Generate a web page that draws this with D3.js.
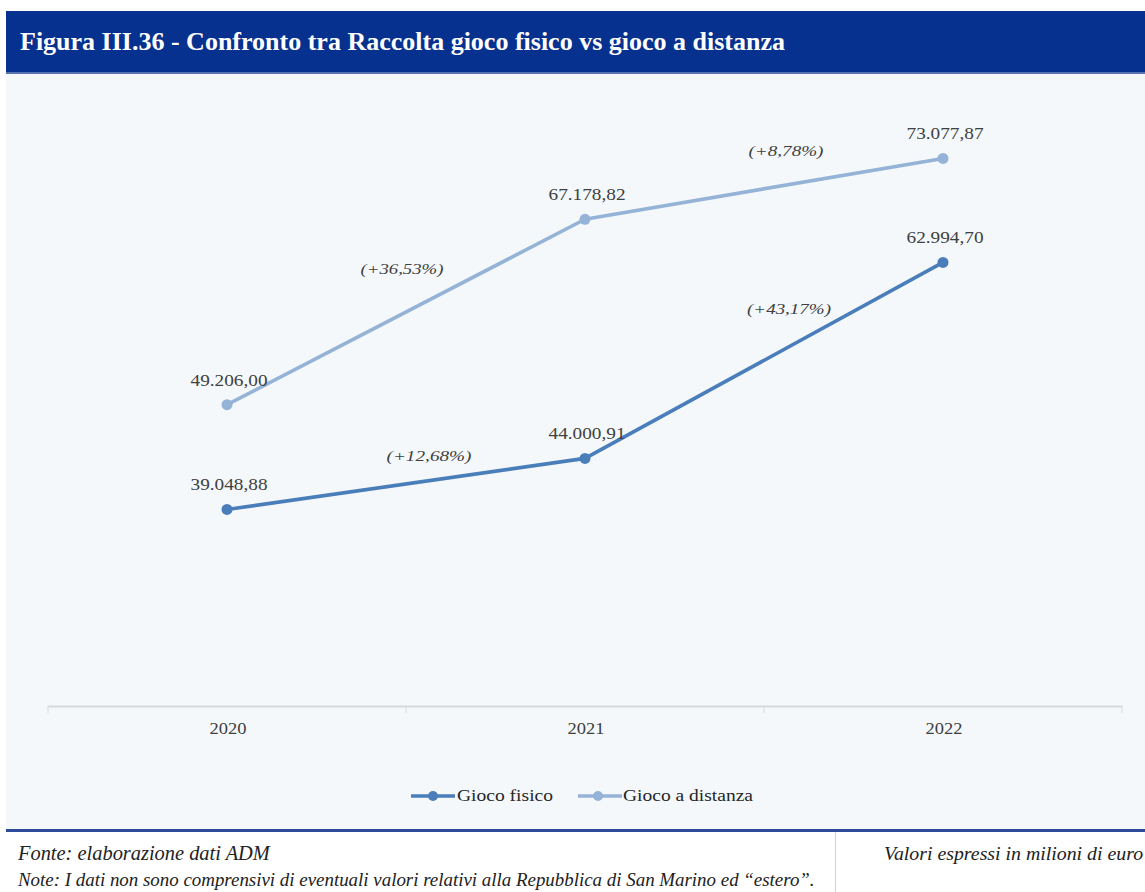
<!DOCTYPE html>
<html><head><meta charset="utf-8">
<script src="https://cdn.jsdelivr.net/npm/d3@7/dist/d3.min.js"></script>
<style>
html,body{margin:0;padding:0;background:#fff;}
svg{display:block;font-family:'Liberation Serif','DejaVu Serif',serif;}
</style></head>
<body>
<svg id="c" width="1145" height="892"></svg>
<script>
const years = ["2020", "2021", "2022"];
const fisico = [39048.88, 44000.91, 62994.70];
const distanza = [49206.00, 67178.82, 73077.87];
const fisicoLabels = ["39.048,88", "44.000,91", "62.994,70"];
const distanzaLabels = ["49.206,00", "67.178,82", "73.077,87"];
const fisicoPct = ["(+12,68%)", "(+43,17%)"];
const distanzaPct = ["(+36,53%)", "(+8,78%)"];
const seriesNames = ["Gioco fisico", "Gioco a distanza"];
const title = "Figura III.36 - Confronto tra Raccolta gioco fisico vs gioco a distanza";
const source = "Fonte: elaborazione dati ADM";
const note = "Note: I dati non sono comprensivi di eventuali valori relativi alla Repubblica di San Marino ed \u201cestero\u201d.";
const unit = "Valori espressi in milioni di euro";

const svg = d3.select("#c");
const SERIF = "Liberation Serif";
const colF = "#4a7ebb", colD = "#95b3d7";

function fit(sel, w){
  const n = sel.node(); let fs = parseFloat(sel.attr("font-size"));
  for(let i=0;i<4;i++){ const L = n.getComputedTextLength(); fs = fs*w/L; sel.attr("font-size", fs); }
}
function stretch(sel, w){ sel.attr("textLength", w).attr("lengthAdjust","spacingAndGlyphs"); }

// panel background
svg.append("rect").attr("x",6).attr("y",73).attr("width",1139).attr("height",757).attr("fill","#f4f8fb");
// header
svg.append("rect").attr("x",6).attr("y",11).attr("width",1139).attr("height",62).attr("fill","#07318f");
svg.append("rect").attr("x",6).attr("y",72).attr("width",1139).attr("height",2).attr("fill","#5873b0");
fit(svg.append("text").attr("x",20).attr("y",50).style("font-family",SERIF).attr("font-weight","bold")
  .attr("font-size",18).attr("fill","#fff").text(title), 765);

// scales
const x = d3.scaleBand().domain(years).range([48,1122]);
const y = d3.scaleLinear().domain([20000,80000]).range([706,87]);
const cx = d => x(d) + x.bandwidth()/2;

// axis
const ax = svg.append("g").attr("transform","translate(0,706)")
  .call(d3.axisBottom(x).tickSize(0).tickPadding(17));
ax.attr("font-family", null);
ax.select(".domain").attr("stroke","#d6d9dc").attr("stroke-width",2);
ax.selectAll("text").style("font-family",SERIF).attr("font-size",16).attr("fill","#404040")
  .attr("dx",1).each(function(){ stretch(d3.select(this), 37); });
// band boundary ticks
const bounds = years.map(d=>x(d)).concat([x(years[years.length-1])+x.bandwidth()]);
svg.append("g").selectAll("line").data(bounds).join("line")
  .attr("x1",d=>d).attr("x2",d=>d).attr("y1",706).attr("y2",713)
  .attr("stroke","#d6d9dc").attr("stroke-width",1);

const line = d3.line().x((d,i)=>cx(years[i])).y(d=>y(d));
function drawSeries(vals, col, labels){
  svg.append("path").datum(vals).attr("d",line).attr("fill","none")
    .attr("stroke",col).attr("stroke-width",3.6).attr("stroke-linejoin","round");
  svg.append("g").selectAll("circle").data(vals).join("circle")
    .attr("cx",(d,i)=>cx(years[i])).attr("cy",d=>y(d)).attr("r",5.5).attr("fill",col);
  svg.append("g").selectAll("text").data(vals).join("text")
    .attr("x",(d,i)=>cx(years[i])+2).attr("y",d=>y(d)-19)
    .attr("text-anchor","middle").style("font-family",SERIF).attr("font-size",16)
    .attr("fill","#404040").text((d,i)=>labels[i])
    .attr("textLength",77).attr("lengthAdjust","spacingAndGlyphs");
}
drawSeries(distanza, colD, distanzaLabels);
drawSeries(fisico, colF, fisicoLabels);

// percentage annotations (placed relative to segment midpoints)
function pct(vals, labels, offs, widths){
  labels.forEach((t,i)=>{
    const mx = (cx(years[i])+cx(years[i+1]))/2, my = (y(vals[i])+y(vals[i+1]))/2;
    svg.append("text").attr("x",mx+offs[i][0]).attr("y",my+offs[i][1])
      .attr("text-anchor","middle").style("font-family",SERIF).attr("font-style","italic")
      .attr("font-size",15.5).attr("fill","#404040").text(t)
      .attr("textLength",widths[i]).attr("lengthAdjust","spacingAndGlyphs");
  });
}
pct(distanza, distanzaPct, [[-4,-38],[22,-33]], [83,75]);
pct(fisico, fisicoPct, [[23,-23],[25,-46]], [85,84]);

// legend
const lg = svg.append("g");
[[411,455,433,457,colF,96],[578,622,598,623,colD,130]].forEach((p,i)=>{
  lg.append("line").attr("x1",p[0]).attr("x2",p[1]).attr("y1",796).attr("y2",796)
    .attr("stroke",p[4]).attr("stroke-width",3.6);
  lg.append("circle").attr("cx",p[2]).attr("cy",796).attr("r",5).attr("fill",p[4]);
  lg.append("text").attr("x",p[3]).attr("y",801).style("font-family",SERIF).attr("font-size",16.5)
    .attr("fill","#262626").text(seriesNames[i])
    .attr("textLength",p[5]).attr("lengthAdjust","spacingAndGlyphs");
});

// footer
svg.append("rect").attr("x",6).attr("y",829).attr("width",1139).attr("height",3).attr("fill","#2e4a9a");
svg.append("line").attr("x1",835.5).attr("x2",835.5).attr("y1",832).attr("y2",892).attr("stroke","#cfd3d8");
fit(svg.append("text").attr("x",18).attr("y",860).style("font-family",SERIF).attr("font-style","italic")
  .attr("font-size",16).attr("fill","#222").text(source), 252);
fit(svg.append("text").attr("x",18).attr("y",886).style("font-family",SERIF).attr("font-style","italic")
  .attr("font-size",16).attr("fill","#222").text(note), 797);
fit(svg.append("text").attr("x",884).attr("y",860).style("font-family",SERIF).attr("font-style","italic")
  .attr("font-size",16).attr("fill","#222").text(unit), 259);
</script>
</body></html>
